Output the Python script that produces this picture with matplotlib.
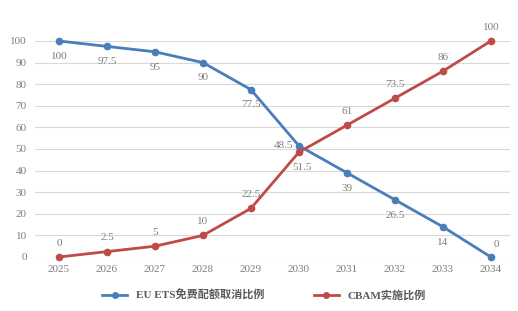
import matplotlib
matplotlib.use("Agg")
import matplotlib.pyplot as plt
from matplotlib.lines import Line2D

years = ["2025", "2026", "2027", "2028", "2029", "2030", "2031", "2032", "2033", "2034"]
ets = [100, 97.5, 95, 90, 77.5, 51.5, 39, 26.5, 14, 0]
cbam = [0, 2.5, 5, 10, 22.5, 48.5, 61, 73.5, 86, 100]
ets_name = "EU ETS免费配额取消比例"
cbam_name = "CBAM实施比例"
yticks = [0, 10, 20, 30, 40, 50, 60, 70, 80, 90, 100]

blue = "#4a7ebb"
red = "#be4b48"
gray = "#7f7f7f"
numfont = "Liberation Serif"
fs = 8

fig = plt.figure(figsize=(5.18, 3.11), dpi=100)
ax = fig.add_axes([35/518, 1-257/311, (510-35)/518, (257-41)/311])
x = list(range(len(years)))

ax.plot(x, ets, color=blue, lw=2, marker="o", ms=4.5, clip_on=False, zorder=3)
ax.plot(x, cbam, color=red, lw=2, marker="o", ms=4.5, clip_on=False, zorder=3)

ax.set_xlim(-0.5, 9.4)
ax.set_ylim(0, 100)
ax.set_yticks(yticks)
ax.set_xticks(x)
ax.set_xticklabels(years)
for s in ax.spines.values():
    s.set_visible(False)
ax.grid(axis="y", color="#d9d9d9", lw=0.8)
ax.set_axisbelow(True)
ax.tick_params(length=0, labelsize=fs, labelcolor=gray)
ax.tick_params(axis="x", pad=6)
ax.tick_params(axis="y", pad=6)
for lab in ax.get_xticklabels() + ax.get_yticklabels():
    lab.set_fontfamily(numfont)

def fmt(v):
    return f"{v:g}"

def lab(i, v, dx, dy, ha="center", va="center"):
    ax.annotate(fmt(v), (i, v), xytext=(dx, dy), textcoords="offset points",
                ha=ha, va=va, fontsize=fs, color=gray, family=numfont)

for i, v in enumerate(ets):
    if i == 9:
        lab(i, v, 4, 9)
    elif i == 5:
        lab(i, v, 2, -16)
    else:
        lab(i, v, 0, -11)
for i, v in enumerate(cbam):
    if i == 5:
        lab(i, v, -4, 5, ha="right")
    else:
        lab(i, v, 0, 10)

handles = [Line2D([], [], color=blue, lw=2, marker="o", ms=4),
           Line2D([], [], color=red, lw=2, marker="o", ms=4)]
leg = fig.legend(handles, [ets_name, cbam_name], loc="center", bbox_to_anchor=(0.51, 1-295/311),
                 ncol=2, frameon=False, handlelength=2.2, columnspacing=4.5, handletextpad=0.8,
                 prop={"family": ["Liberation Serif", "Noto Sans CJK SC"], "size": 8, "weight": "bold"})
for t in leg.get_texts():
    t.set_color("#595959")

fig.savefig("out.png", dpi=100)
